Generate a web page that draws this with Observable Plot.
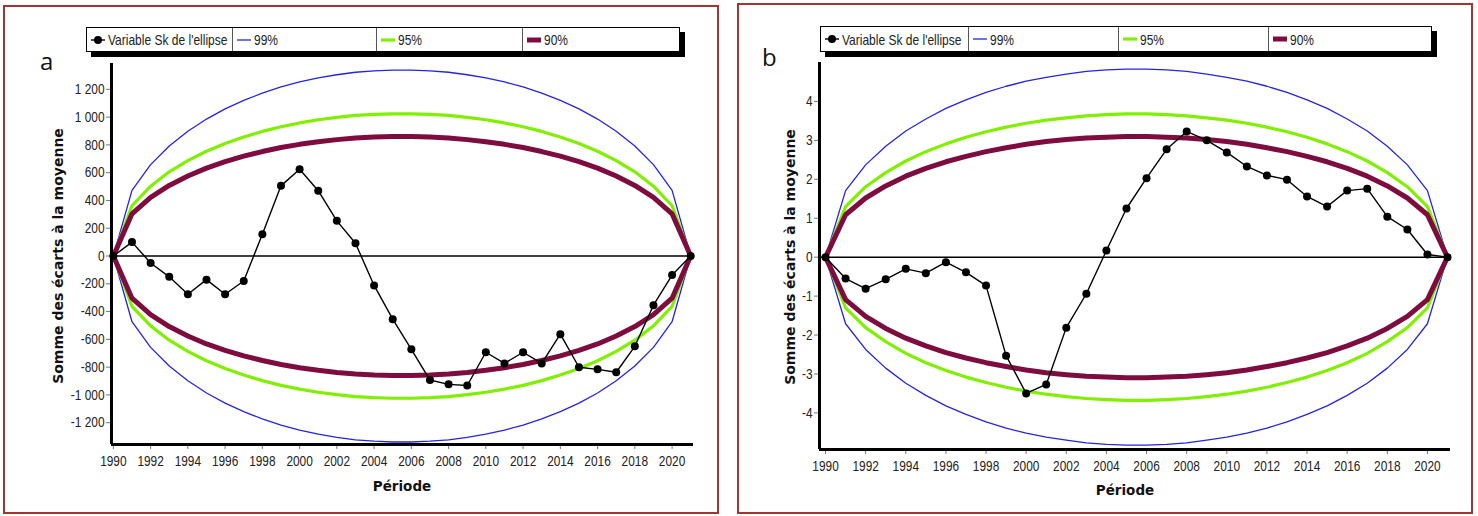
<!DOCTYPE html>
<html>
<head>
<meta charset="utf-8">
<script src="https://cdn.jsdelivr.net/npm/d3@7"></script>
<script src="https://cdn.jsdelivr.net/npm/@observablehq/plot@0.6"></script>
<style>
  html, body { margin: 0; padding: 0; background: #fff; }
  body { width: 1478px; height: 516px; position: relative; overflow: hidden;
         font-family: "Liberation Sans", Arial, sans-serif; }
  .panel { position: absolute; border: 2px solid #a23434; box-sizing: border-box; background: #fff; }
  .chart { position: absolute; top: 0; }
  .chart svg { overflow: visible; }
  .legend { position: absolute; height: 25px; border: 1.5px solid #000; background: #fff;
            box-shadow: 5px 5px 0 #000; display: flex; box-sizing: border-box; z-index: 3; }
  .legend .cell { height: 100%; display: flex; align-items: center; border-right: 1px solid #555;
                  box-sizing: border-box; padding-left: 4px; font-size: 15px; color: #222; white-space: nowrap; overflow: hidden; }
  .legend .cell:last-child { border-right: none; }
  .legend .lbl { display: inline-block; transform: scaleX(0.8); transform-origin: left center; }
  .sw { display: inline-block; width: 14px; margin-right: 3px; position: relative; }
  .letter { position: absolute; font-family: "Open Sans", "Liberation Sans", sans-serif; font-size: 24px; color: #111; z-index: 3; }
  .ytitle { position: absolute; font-family: "DejaVu Sans", Verdana, sans-serif; font-weight: bold; font-size: 14px;
            color: #111; white-space: nowrap; transform: translate(-50%, -50%) rotate(-90deg); z-index: 3; }
  .xtitle { position: absolute; font-family: "DejaVu Sans", Verdana, sans-serif; font-weight: bold; font-size: 13.5px;
            color: #111; white-space: nowrap; transform: translate(-50%, -50%); z-index: 3; }
</style>
</head>
<body>
<div class="panel" style="left:3px; top:5px; width:716px; height:509px;"></div>
<div class="panel" style="left:737px; top:3px; width:736px; height:511px;"></div>
<div id="chartA" class="chart" style="left:0px;"></div>
<div id="chartB" class="chart" style="left:737px;"></div>
<div id="legendA" class="legend" style="left:86px; top:27px; width:594px;"></div>
<div id="legendB" class="legend" style="left:820px; top:26px; width:612px; height:26px;"></div>
<div class="letter" style="left:40px; top:44px;">a</div>
<div class="letter" style="left:762px; top:40px;">b</div>
<div class="ytitle" style="left:58px; top:256px;">Somme des écarts à la moyenne</div>
<div class="ytitle" style="left:790px; top:257px;">Somme des écarts à la moyenne</div>
<div class="xtitle" style="left:402px; top:486px;">Période</div>
<div class="xtitle" style="left:1125px; top:490px;">Période</div>
<script>
// ---------- DATA ----------
const years = [1990,1991,1992,1993,1994,1995,1996,1997,1998,1999,2000,2001,2002,2003,2004,2005,
               2006,2007,2008,2009,2010,2011,2012,2013,2014,2015,2016,2017,2018,2019,2020,2021];
const yearTicks = [1990,1992,1994,1996,1998,2000,2002,2004,2006,2008,2010,2012,2014,2016,2018,2020];
const seriesNames = ["Variable Sk de l'ellipse", "99%", "95%", "90%"];

// Panel a
const skA = [0,100,-50,-150,-275,-170,-275,-180,157,505,625,470,253,92,-212,-455,
             -672,-893,-924,-932,-693,-773,-693,-773,-563,-801,-816,-837,-650,-354,-137,0];
const e99A = [0,473,658,792,898,986,1059,1120,1173,1217,1253,1282,1305,1323,1333,1339,
              1339,1333,1323,1305,1282,1253,1217,1173,1120,1059,986,898,792,658,473,0];
const e95A = [0,362,503,606,687,754,810,857,897,931,958,981,998,1012,1020,1024,
              1024,1020,1012,998,981,958,931,897,857,810,754,687,606,503,362,0];
const e90A = [0,304,422,508,576,633,679,719,752,781,804,823,838,849,856,860,
              860,856,849,838,823,804,781,752,719,679,633,576,508,422,304,0];
const yTicksA = [-1200,-1000,-800,-600,-400,-200,0,200,400,600,800,1000,1200];

// Panel b
const skB = [0,-0.55,-0.81,-0.57,-0.30,-0.41,-0.13,-0.39,-0.73,-2.53,-3.50,-3.27,-1.81,-0.94,0.17,1.25,
             2.03,2.77,3.23,3.00,2.69,2.33,2.10,1.99,1.56,1.30,1.71,1.76,1.04,0.71,0.07,0];
const e99B = [0,1.71,2.37,2.85,3.24,3.55,3.82,4.04,4.23,4.39,4.52,4.62,4.70,4.77,4.81,4.83,
              4.83,4.81,4.77,4.70,4.62,4.52,4.39,4.23,4.04,3.82,3.55,3.24,2.85,2.37,1.71,0];
const e95B = [0,1.30,1.81,2.17,2.47,2.71,2.91,3.08,3.22,3.34,3.44,3.52,3.58,3.63,3.66,3.68,
              3.68,3.66,3.63,3.58,3.52,3.44,3.34,3.22,3.08,2.91,2.71,2.47,2.17,1.81,1.30,0];
const e90B = [0,1.09,1.52,1.83,2.08,2.28,2.45,2.59,2.71,2.81,2.90,2.97,3.02,3.06,3.08,3.10,
              3.10,3.08,3.06,3.02,2.97,2.90,2.81,2.71,2.59,2.45,2.28,2.08,1.83,1.52,1.09,0];
const yTicksB = [-4,-3,-2,-1,0,1,2,3,4];

// ---------- STYLE ----------
const colors = { "99%": "#2424e6", "95%": "#80f000", "90%": "#7e0c3e" };
const widths = { "99%": 1.3, "95%": 3.2, "90%": 5 };
const tickFont = '"Liberation Sans", Arial, sans-serif';

function ellipseRows(vals, name) {
  const up = years.map((x, i) => ({x, y: vals[i], name, side: "up"}));
  const lo = years.map((x, i) => ({x, y: -vals[i], name, side: "lo"}));
  return [up, lo];
}

function makeChart(cfg) {
  const sk = years.map((x, i) => ({x, y: cfg.sk[i]}));
  const marks = [
    Plot.ruleY([0], {x1: cfg.xdom[0], x2: cfg.xdom[1], stroke: "#000", strokeWidth: 1.5})
  ];
  [["99%", cfg.e99], ["95%", cfg.e95], ["90%", cfg.e90]].forEach(([name, vals]) => {
    ellipseRows(vals, name).forEach(rows => {
      marks.push(Plot.line(rows, {x: "x", y: "y", stroke: colors[name], strokeWidth: widths[name],
        strokeLinejoin: "round", strokeLinecap: "round"}));
    });
  });
  marks.push(Plot.line(sk, {x: "x", y: "y", stroke: "#000", strokeWidth: 1.4}));
  marks.push(Plot.dot(sk, {x: "x", y: "y", r: 4, fill: "#000", stroke: "none"}));
  marks.push(Plot.ruleX([cfg.xdom[0]], {y1: cfg.ydom[0], y2: cfg.ydom[1], stroke: "#000", strokeWidth: 3}));
  marks.push(Plot.ruleY([cfg.ydom[0]], {x1: cfg.xdom[0], x2: cfg.xdom[1], stroke: "#000", strokeWidth: 3}));

  const svg = Plot.plot({
    width: cfg.width, height: 516,
    marginLeft: cfg.ml, marginRight: cfg.mr, marginTop: cfg.mt, marginBottom: cfg.mb,
    style: {fontFamily: tickFont, fontSize: "14.5px", background: "transparent", color: "#222", overflow: "visible"},
    x: {domain: cfg.xdom, ticks: yearTicks, tickFormat: d => String(d), label: null, tickSize: 5, tickPadding: 6},
    y: {domain: cfg.ydom, ticks: cfg.yticks, tickFormat: cfg.fmt, label: null, tickSize: 5, tickPadding: 2},
    marks
  });
  // condensed look for tick labels (like Arial Narrow)
  d3.select(svg).selectAll("g[aria-label$='tick label'] text").each(function() {
    const t = this.getAttribute("transform") || "";
    this.setAttribute("transform", t + " scale(0.82,1)");
  });
  d3.select(svg).selectAll("g[aria-label$='tick'] path, g[aria-label$='tick'] line").attr("stroke", "#777");
  d3.select(svg).selectAll("g[aria-label$='-axis tick']").attr("stroke", "#777");
  return svg;
}

const fmtA = d => d3.format(",")(d).replace(/,/g, "\u00a0").replace("\u2212", "-");
const fmtB = d => String(d);

document.getElementById("chartA").appendChild(makeChart({
  width: 720, ml: 111, mr: 27, mt: 63, mb: 72,
  xdom: [1989.9, 2021.15], ydom: [-1357, 1386], yticks: yTicksA, fmt: fmtA,
  sk: skA, e99: e99A, e95: e95A, e90: e90A
}));
document.getElementById("chartB").appendChild(makeChart({
  width: 741, ml: 82, mr: 28, mt: 62, mb: 67,
  xdom: [1989.7, 2021.15], ydom: [-4.94, 5.0], yticks: yTicksB, fmt: fmtB,
  sk: skB, e99: e99B, e95: e95B, e90: e90B
}));

// ---------- LEGENDS ----------
function legend(el, cellWidths) {
  seriesNames.forEach((name, i) => {
    const c = document.createElement("div");
    c.className = "cell";
    c.style.width = cellWidths[i] + "px";
    const sw = document.createElement("span");
    sw.className = "sw";
    if (i === 0) {
      sw.innerHTML = '<svg width="14" height="10" style="display:block"><line x1="0" y1="5" x2="14" y2="5" stroke="#000" stroke-width="1.4"/><circle cx="7" cy="5" r="4" fill="#000"/></svg>';
    } else {
      const w = widths[name];
      sw.innerHTML = `<svg width="14" height="10" style="display:block"><line x1="0" y1="5" x2="14" y2="5" stroke="${colors[name]}" stroke-width="${w}"/></svg>`;
    }
    c.appendChild(sw);
    const t = document.createElement("span");
    t.className = "lbl";
    t.textContent = name;
    c.appendChild(t);
    el.appendChild(c);
  });
}
legend(document.getElementById("legendA"), [146, 144, 146, 155]);
legend(document.getElementById("legendB"), [148, 150, 150, 161]);
</script>
</body>
</html>
